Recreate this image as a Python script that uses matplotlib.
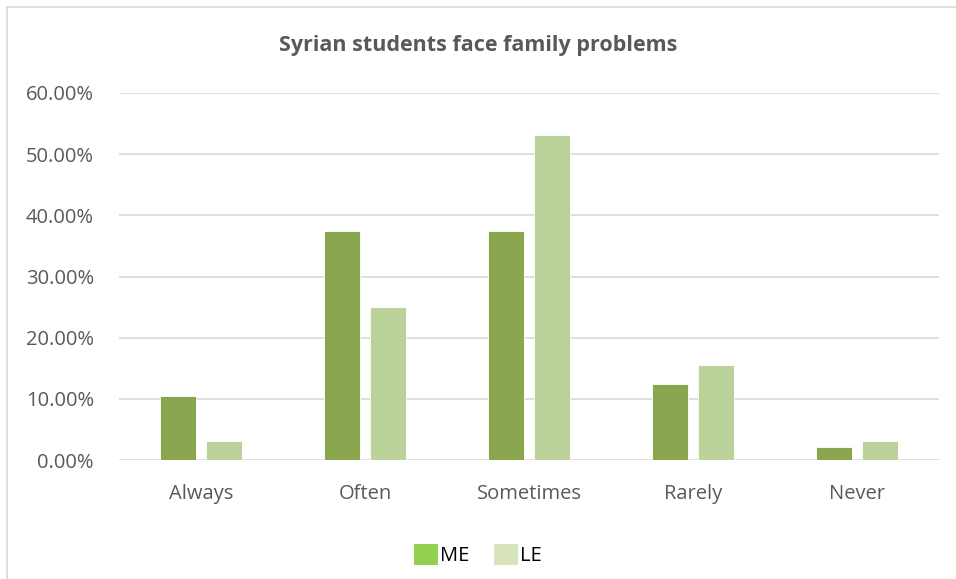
import matplotlib.pyplot as plt
from matplotlib.lines import Line2D
from matplotlib.patches import Patch
from matplotlib.ticker import FuncFormatter
import numpy as np

# answers and shares of students per group
categories = ['Always', 'Often', 'Sometimes', 'Rarely', 'Never']
me_values = [0.104, 0.375, 0.375, 0.125, 0.021]
le_values = [0.031, 0.25, 0.531, 0.156, 0.031]
series_names = ['ME', 'LE']

plt.rcParams['font.family'] = ['Open Sans', 'DejaVu Sans']

fig = plt.figure(figsize=(9.56, 5.79), dpi=100)
ax = fig.add_axes([119 / 956, 1 - 460 / 579, 820 / 956, 367 / 579])

x = np.arange(len(categories))
w = 0.22
ax.bar(x - 0.14, me_values, w, color='#8aa64f', edgecolor='white', linewidth=0.6, zorder=3)
ax.bar(x + 0.143, le_values, w, color='#bbd29b', edgecolor='white', linewidth=0.6, zorder=3)

ax.set_xlim(-0.5, 4.5)
ax.set_ylim(0, 0.6)
ax.set_yticks(np.arange(0, 0.61, 0.1))
ax.yaxis.set_major_formatter(FuncFormatter(lambda v, p: f'{v * 100:.2f}%'))
ax.set_xticks(x)
ax.set_xticklabels(categories)
ax.tick_params(axis='both', length=0, labelsize=14.5, colors='#595959')
ax.tick_params(axis='y', pad=18)
ax.tick_params(axis='x', pad=17)
ax.grid(axis='y', color='#d9d9d9', linewidth=1.2, zorder=0)
for s in ax.spines.values():
    s.set_visible(False)

fig.text(0.5, 1 - 45 / 579, 'Syrian students face family problems', ha='center', va='center',
         fontsize=15.5, fontweight='bold', color='#595959')

handles = [Patch(facecolor='#92d050'), Patch(facecolor='#d8e4bc')]
fig.legend(handles, series_names, loc='center', bbox_to_anchor=(0.5, 1 - 555 / 579),
           ncol=2, frameon=False, fontsize=14.5, handlelength=1.2, handleheight=1.2,
           handletextpad=0.1, columnspacing=1.2)

# outer chart frame, partly cut at the right and bottom
fig.add_artist(Line2D([7 / 956, 1], [1 - 7 / 579] * 2, color='#d9d9d9', linewidth=1.2))
fig.add_artist(Line2D([7 / 956] * 2, [0, 1 - 7 / 579], color='#d9d9d9', linewidth=1.2))

plt.savefig('out.png', dpi=100)
